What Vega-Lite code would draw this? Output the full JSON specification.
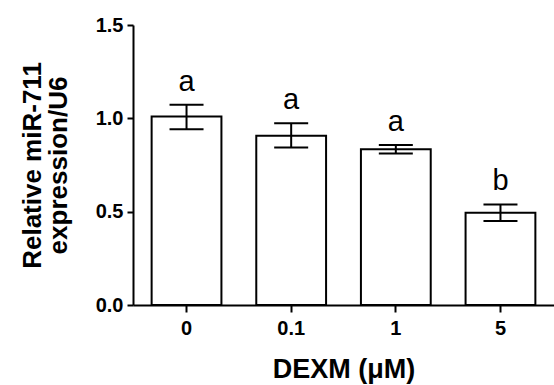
{
  "$schema": "https://vega.github.io/schema/vega-lite/v6.json",
  "width": 421,
  "height": 280,
  "autosize": {"type": "none"},
  "padding": {"left": 133, "top": 25, "right": 0, "bottom": 80},
  "background": "white",
  "config": {
    "view": {"stroke": null},
    "font": "Liberation Sans",
    "axis": {
      "domainColor": "black",
      "domainWidth": 2,
      "tickColor": "black",
      "tickWidth": 2,
      "grid": false,
      "labelColor": "black",
      "labelFont": "Liberation Sans",
      "labelFontWeight": "bold",
      "labelFontSize": 20,
      "titleColor": "black",
      "titleFont": "Liberation Sans",
      "titleFontWeight": "bold"
    }
  },
  "data": {
    "values": [
      {"dose": "0", "mean": 1.01, "lower": 0.941, "upper": 1.073, "sig": "a"},
      {"dose": "0.1", "mean": 0.907, "lower": 0.844, "upper": 0.973, "sig": "a"},
      {"dose": "1", "mean": 0.834, "lower": 0.811, "upper": 0.857, "sig": "a"},
      {"dose": "5", "mean": 0.494, "lower": 0.45, "upper": 0.539, "sig": "b"}
    ]
  },
  "encoding": {
    "x": {
      "field": "dose",
      "type": "nominal",
      "sort": null,
      "scale": {"paddingInner": 0.333, "paddingOuter": 0.178},
      "axis": {
        "title": "DEXM (μM)",
        "titleFontSize": 27,
        "titlePadding": 18,
        "labelAngle": 0,
        "tickSize": 7,
        "labelPadding": 6
      }
    }
  },
  "layer": [
    {
      "mark": {"type": "bar", "fill": "white", "stroke": "black", "strokeWidth": 2},
      "encoding": {
        "y": {
          "field": "mean",
          "type": "quantitative",
          "scale": {"domain": [0, 1.5], "nice": false},
          "axis": {
            "title": ["Relative miR-711", "expression/U6"],
            "titleFontSize": 26,
            "titleLineHeight": 26,
            "titlePadding": 24,
            "values": [0, 0.5, 1, 1.5],
            "format": ".1f",
            "tickSize": 6,
            "labelPadding": 4
          }
        }
      }
    },
    {
      "mark": {"type": "rule", "stroke": "black", "strokeWidth": 2},
      "encoding": {
        "y": {"field": "lower", "type": "quantitative", "scale": {"domain": [0, 1.5], "nice": false}},
        "y2": {"field": "upper"}
      }
    },
    {
      "mark": {"type": "tick", "orient": "horizontal", "size": 34, "thickness": 2, "color": "black", "opacity": 1},
      "encoding": {"y": {"field": "upper", "type": "quantitative", "scale": {"domain": [0, 1.5], "nice": false}}}
    },
    {
      "mark": {"type": "tick", "orient": "horizontal", "size": 34, "thickness": 2, "color": "black", "opacity": 1},
      "encoding": {"y": {"field": "lower", "type": "quantitative", "scale": {"domain": [0, 1.5], "nice": false}}}
    },
    {
      "mark": {"type": "text", "font": "Liberation Sans", "fontSize": 29, "color": "black", "baseline": "alphabetic", "dy": -14},
      "encoding": {
        "y": {"field": "upper", "type": "quantitative", "scale": {"domain": [0, 1.5], "nice": false}},
        "text": {"field": "sig"}
      }
    }
  ]
}
